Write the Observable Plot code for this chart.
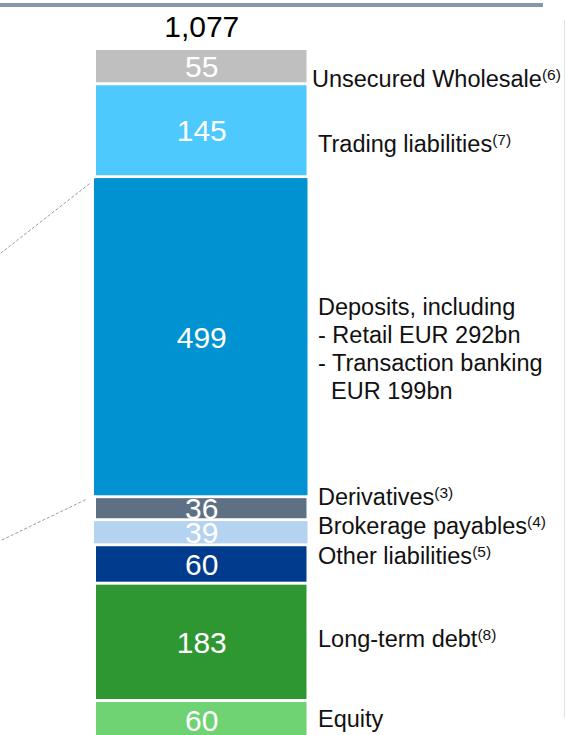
<!DOCTYPE html>
<html><head><meta charset="utf-8">
<script src="https://cdn.jsdelivr.net/npm/d3@7"></script>
<script src="https://cdn.jsdelivr.net/npm/@observablehq/plot@0.6"></script>
<style>
html,body{margin:0;padding:0;background:#fff;}
#wrap{position:relative;width:566px;height:735px;overflow:hidden;}
.hdr{position:absolute;left:0;top:3px;width:543px;height:4px;background:#8597ab;}
.vline{position:absolute;left:564px;top:20px;width:1px;height:698px;background:#e2e2e2;}
#chart svg{display:block;}
</style></head><body>
<div id="wrap"><div id="chart"></div><div class="hdr"></div><div class="vline"></div></div>
<script>
// ---- data (top of bar to bottom) ----
const categories = ["Unsecured Wholesale", "Trading liabilities", "Deposits", "Derivatives",
  "Brokerage payables", "Other liabilities", "Long-term debt", "Equity"];
const values = [55, 145, 499, 36, 39, 60, 183, 60];
const labels = ["Unsecured Wholesale", "Trading liabilities",
  "Deposits, including\n- Retail EUR 292bn\n- Transaction banking\n\u00a0\u00a0EUR 199bn",
  "Derivatives", "Brokerage payables", "Other liabilities", "Long-term debt", "Equity"];
const notes = ["(6)", "(7)", "", "(3)", "(4)", "(5)", "(8)", ""];
// dashed connector lines (annotation, in chart units)
const connectorsX1 = [-0.033, -0.052];
const connectorsY1 = [867, 374];
const connectorsX2 = [-0.457, -0.457];
const connectorsY2 = [758, 310];

// ---- styles ----
const palette = ["#bfbfbf", "#4dc9fe", "#0092d1", "#5e7184", "#b4d3f0", "#003b8d", "#2f9732", "#6fd373"];
const wide = ["Deposits", "Brokerage payables"];
const labelDx = [5, 11, 11, 11, 11, 11, 11, 11];
const labelDy = [11.2, 12.1, 10.6, -12.4, -7.8, -9.5, -4.4, -2.3];

// stack bottom-up
let acc = 0;
const segments = categories.map((c, i) => ({name: c, value: values[i], i})).reverse().map(d => {
  const y1 = acc; acc += d.value; return {...d, y1, y2: acc};
}).reverse();
const total = d3.sum(values);
const connectors = connectorsX1.map((x, i) => ({x1: x, y1: connectorsY1[i], x2: connectorsX2[i], y2: connectorsY2[i]}));

const fmt = d3.format(",");

const plot = Plot.plot({
  width: 566, height: 735,
  marginTop: 0, marginBottom: 0, marginLeft: 0, marginRight: 0,
  style: {fontFamily: "Arial, 'Liberation Sans', sans-serif", background: "white", overflow: "visible"},
  x: {domain: [0, 1], range: [96, 306.5], axis: null},
  y: {domain: [0, total], range: [739, 48.5], axis: null},
  color: {domain: categories, range: palette},
  marks: [
    Plot.link(connectors, {x1: "x1", y1: "y1", x2: "x2", y2: "y2", stroke: "#8b9db3", strokeWidth: 1, strokeDasharray: "3,2"}),
    Plot.rectY(segments, {x1: 0, x2: 1, y1: "y1", y2: "y2", fill: "name", insetTop: 1.5, insetBottom: 1.5}),
    Plot.rectY(segments.filter(d => wide.includes(d.name)), {x1: 0, x2: 1, y1: "y1", y2: "y2", fill: "name", insetTop: 1.5, insetBottom: 1.5, insetLeft: -2, insetRight: -1}),
    Plot.text(segments, {x: 0.5, y: d => (d.y1 + d.y2) / 2, text: d => fmt(d.value), fill: "white", fontSize: 30, dy: 1}),
    Plot.text([total], {x: 0.5, y: d => d, text: d => fmt(d), fontSize: 30, fill: "#000", lineAnchor: "bottom", dy: -12.5}),
    ...segments.map(d => Plot.text([d], {
      x: 1, y: s => (s.y1 + s.y2) / 2, text: s => labels[s.i],
      textAnchor: "start", lineAnchor: "middle", lineHeight: 1.19,
      fontSize: 23.5, fill: "#111", dx: labelDx[d.i], dy: labelDy[d.i]
    }))
  ]
});
document.getElementById("chart").appendChild(plot);

// superscript footnote markers
d3.select(plot).selectAll("text").each(function() {
  const i = labels.indexOf(this.textContent);
  if (i >= 0 && notes[i]) {
    d3.select(this).append("tspan").attr("font-size", 15.5).attr("dy", -7).text(notes[i]);
  }
});
</script>
</body></html>
